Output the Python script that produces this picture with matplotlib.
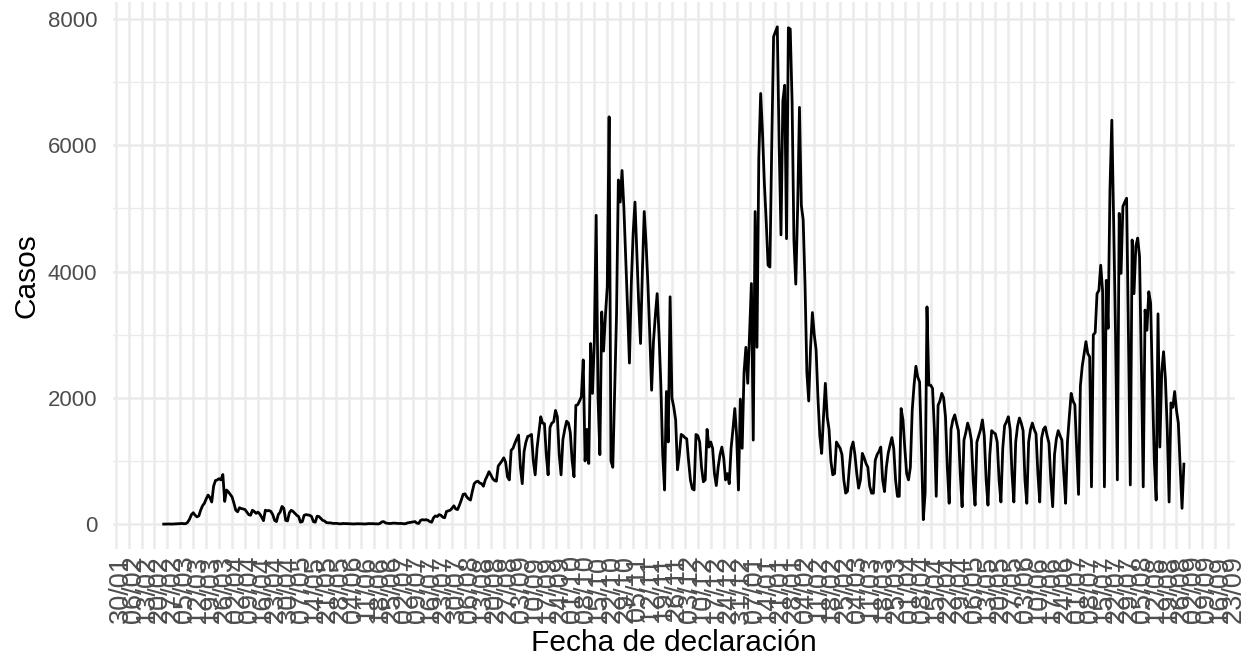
import pandas as pd
import numpy as np
import matplotlib
matplotlib.use("Agg")
import matplotlib.pyplot as plt
import matplotlib.transforms as mtransforms

plt.rcParams['font.family'] = ['Liberation Sans', 'DejaVu Sans']

# Casos diarios por fecha de declaración, desde el 25/02/2020
fecha_inicio = "2020-02-25"

casos_primera_ola = [
    0, 1, 1, 2, 0, 1,
    3, 5, 6, 8, 10, 6, 8,
    30, 80, 150, 180, 140, 115, 130,
    220, 290, 330, 400, 460, 420, 350,
    600, 690, 700, 720, 700, 785, 360,
    540, 510, 470, 430, 330, 220, 195,
    260, 245, 240, 230, 190, 150, 140,
    220, 200, 170, 190, 160, 110, 55,
    220, 210, 215, 200, 150, 60, 40,
    150, 190, 280, 250, 60, 50, 180,
    220, 200, 170, 140, 120, 30, 40,
    140, 150, 145, 140, 120, 40, 30,
    125, 120, 90, 60, 50, 25, 20,
]

casos_verano_2020 = [
    20, 15, 10, 12, 10, 5, 5,
    10, 8, 8, 6, 5, 3, 3,
    5, 6, 5, 4, 3, 2, 5,
    8, 6, 8, 5, 4, 3, 10,
    35, 40, 20, 12, 10, 10, 15,
    15, 12, 10, 10, 10, 5, 8,
    20, 25, 30, 35, 40, 15, 10,
    60, 70, 65, 70, 60, 40, 30,
    100, 130, 120, 150, 140, 110, 100,
    200, 210, 220, 250, 290, 240, 230,
    300, 380, 470, 480, 430, 400, 380,
    520, 640, 670, 680, 650, 640, 600,
    700, 760, 830, 780, 720, 690, 680,
    920, 960, 1000, 1050, 980, 750, 700,
]

casos_segunda_ola = [
    1170, 1200, 1280, 1350, 1410, 900, 640,
    1150, 1300, 1390, 1400, 1420, 1000, 780,
    1200, 1450, 1700, 1600, 1590, 1100, 780,
    1530, 1600, 1620, 1800, 1700, 1100, 780,
    1340, 1500, 1630, 1600, 1450, 1000, 750,
    1880, 1890, 1950, 2020, 2600, 1000, 1500,
    960, 2860, 2070, 2900, 4890, 2000, 1100,
    3360, 2740, 3300, 3760, 6450, 1000, 900,
    2070, 3300, 5450, 5100, 5600, 5000, 4200,
    3400, 2550, 3800, 4600, 5100, 4300, 3500,
    2860, 4000, 4950, 4440, 3800, 3000, 2120,
    2890, 3300, 3650, 3000, 2200, 1100, 540,
    2100, 1300, 3600, 2000, 1850, 1650, 860,
    1100, 1420, 1400, 1370, 1350, 1000, 700,
    560, 540, 1420, 1400, 1300, 900, 670,
    700, 1500, 1220, 1300, 1200, 800, 610,
    900, 1100, 1220, 1050, 700, 800, 640,
]

casos_tercera_ola = [
    1200, 1500, 1830, 1400, 540, 1980, 1200,
    2400, 2800, 2230, 3000, 3810, 1330, 4950,
    2800, 5800, 6820, 6200, 5400, 4800, 4100,
    4070, 6000, 7720, 7800, 7875, 6000, 4580,
    6700, 6950, 4520, 7860, 7840, 6700, 4500,
    3800, 5000, 6600, 5050, 4820, 3800, 2400,
    1950, 2800, 3350, 3000, 2760, 2000, 1400,
    1120, 1700, 2230, 1700, 1500, 1000, 780,
    800, 1300, 1250, 1200, 1100, 700, 490,
]

casos_primavera_2021 = [
    520, 900, 1200, 1300, 1100, 800, 570,
    700, 1120, 1050, 960, 900, 600, 490,
    490, 1010, 1100, 1150, 1220, 700, 515,
    900, 1120, 1250, 1370, 1200, 700, 440,
    440, 1830, 1650, 1200, 800, 700, 900,
    1800, 2200, 2500, 2330, 2250, 1200, 70,
    500, 3440, 2200, 2200, 2150, 1500, 440,
    1880, 1950, 2070, 2000, 1700, 900, 330,
    1500, 1650, 1730, 1600, 1480, 800, 275,
    1330, 1450, 1600, 1500, 1330, 700, 300,
    1300, 1400, 1500, 1650, 1400, 700, 300,
    1100, 1480, 1450, 1430, 1300, 700, 350,
    1200, 1560, 1620, 1700, 1500, 800, 350,
    1300, 1550, 1680, 1600, 1480, 700, 330,
    1300, 1500, 1600, 1500, 1430, 800, 350,
    1360, 1500, 1540, 1400, 1280, 700, 275,
    1100, 1350, 1480, 1400, 1330, 800, 330,
]

casos_quinta_ola = [
    1300, 1700, 2070, 1950, 1890, 1200, 470,
    2190, 2500, 2700, 2890, 2700, 2650, 590,
    3000, 3030, 3650, 3700, 4100, 3700, 590,
    3860, 3100, 5290, 6397, 4780, 3030, 700,
    4920, 3970, 5030, 5100, 5160, 3000, 620,
    4500, 3650, 4400, 4530, 4240, 2500, 590,
    3390, 3070, 3680, 3500, 2190, 1000, 380,
    3330, 1220, 2400, 2730, 2300, 1500, 350,
    1920, 1850, 2100, 1800, 1600, 900, 250,
    950,
]

casos = (casos_primera_ola + casos_verano_2020 + casos_segunda_ola
         + casos_tercera_ola + casos_primavera_2021 + casos_quinta_ola)
fechas = pd.date_range(fecha_inicio, periods=len(casos), freq="D")

# Cortes semanales del eje x (como en el original)
cortes_semanales = pd.date_range("2020-01-30", "2021-09-23", freq="7D")
etiquetas_x = [d.strftime("%d/%m") for d in cortes_semanales]

cortes_y = [0, 2000, 4000, 6000, 8000]
cortes_y_menores = [1000, 3000, 5000, 7000]

fig = plt.figure(figsize=(12.48, 6.58), dpi=100)
ax = fig.add_axes([0.0903, 0.1657, 0.8992, 0.8313])

ax.plot(fechas, casos, color="black", linewidth=2.0, zorder=3)

# Expansión del 5% como ggplot
rango = fechas[-1] - fechas[0]
ax.set_xlim(fechas[0] - 0.05 * rango, fechas[-1] + 0.05 * rango)
ymax = max(casos)
ax.set_ylim(-0.05 * ymax, 1.05 * ymax)

ax.set_yticks(cortes_y)
ax.set_yticklabels([str(v) for v in cortes_y])
ax.set_yticks(cortes_y_menores, minor=True)
ax.set_xticks(cortes_semanales)
ax.set_xticklabels(etiquetas_x, rotation=90, ha="center", va="top")

ax.tick_params(axis="both", which="both", length=0, labelcolor="#4D4D4D")
ax.tick_params(axis="y", labelsize=16, pad=11)
ax.tick_params(axis="x", labelsize=19.5, pad=4.5)

# etiquetas giradas un poco a la derecha del corte, como en ggplot
desplaz = mtransforms.ScaledTranslation(5 / 100, 0, fig.dpi_scale_trans)
for lab in ax.get_xticklabels():
    lab.set_transform(lab.get_transform() + desplaz)

ax.grid(True, which="major", color="#EBEBEB", linewidth=1.8, zorder=0)
ax.grid(True, which="minor", axis="y", color="#EBEBEB", linewidth=1.0, zorder=0)
ax.set_axisbelow(True)
for s in ax.spines.values():
    s.set_visible(False)

ax.set_xlabel("Fecha de declaración", fontsize=21.5, labelpad=4)
ax.set_ylabel("Casos", fontsize=21.5, labelpad=5)

fig.savefig("out.png", dpi=100)
